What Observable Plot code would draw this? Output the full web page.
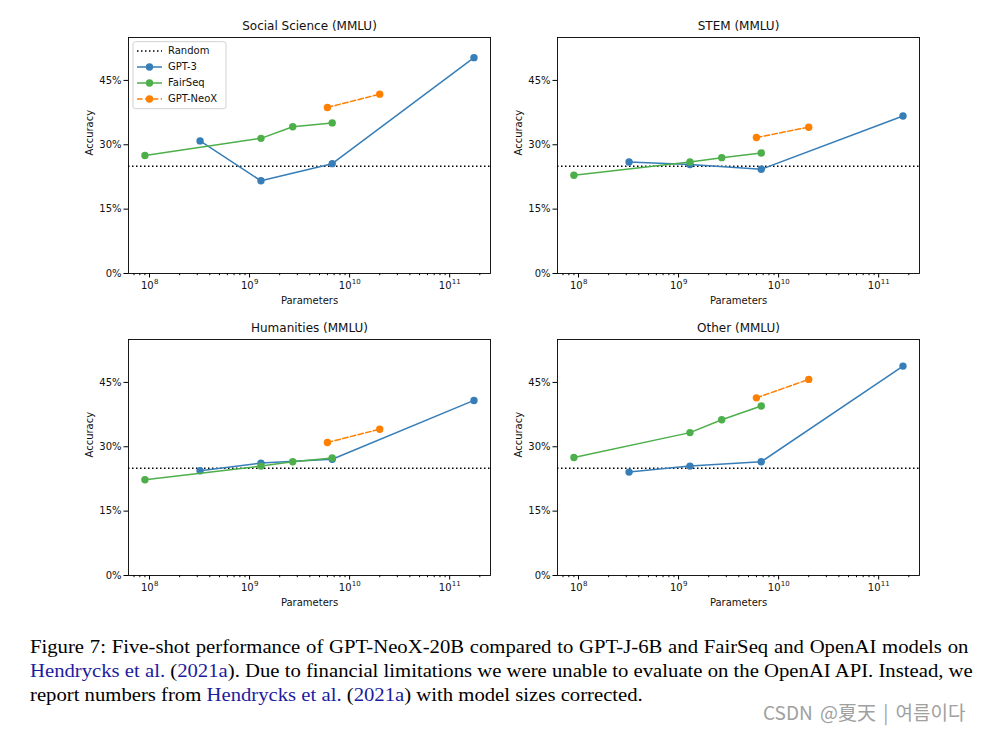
<!DOCTYPE html>
<html><head><meta charset="utf-8">
<script src="https://cdn.jsdelivr.net/npm/d3@7"></script>
<script src="https://cdn.jsdelivr.net/npm/@observablehq/plot@0.6"></script>
<style>
body{margin:0;background:#fff;}
#root{position:relative;width:983px;height:730px;overflow:hidden;background:#fff;}
.panel{position:absolute;}
#caption{position:absolute;left:30px;top:635px;width:816px;transform:scaleX(1.15);transform-origin:0 0;font-family:"Liberation Serif","Times New Roman",serif;font-size:18px;color:#000;line-height:24px;}
.ln{text-align:justify;text-align-last:justify;white-space:nowrap;}
.ln3{text-align:left;white-space:nowrap;}
.cite{color:#1c1ca0;}
#wm{position:absolute;left:763px;top:699px;font-family:"Noto Sans CJK KR","Noto Sans CJK SC",sans-serif;font-size:19px;line-height:26px;color:#a0a0a0;white-space:nowrap;word-spacing:3px;}
</style>
</head><body>
<div id="root">
  <div id="p0" class="panel" style="left:0px;top:0px"></div>
  <div id="p1" class="panel" style="left:429px;top:0px"></div>
  <div id="p2" class="panel" style="left:0px;top:302px"></div>
  <div id="p3" class="panel" style="left:429px;top:302px"></div>
  <div id="caption">
    <div class="ln">Figure 7: Five-shot performance of GPT-NeoX-20B compared to GPT-J-6B and FairSeq and OpenAI models on</div>
    <div class="ln"><span class="cite">Hendrycks et al.</span> (<span class="cite">2021a</span>). Due to financial limitations we were unable to evaluate on the OpenAI API. Instead, we</div>
    <div class="ln3">report numbers from <span class="cite">Hendrycks et al.</span> (<span class="cite">2021a</span>) with model sizes corrected.</div>
  </div>
  <div id="wm">CSDN @夏天 | 여름이다</div>
</div>
<script>
// ---- data ----
const panelTitles = ["Social Science (MMLU)", "STEM (MMLU)", "Humanities (MMLU)", "Other (MMLU)"];
const seriesNames = ["GPT-3", "FairSeq", "GPT-NeoX"];
const randomBaseline = 0.25;

const gpt3Params = [3.2e8, 1.3e9, 6.7e9, 1.75e11];
const fairseqParams = [9e7, 1.3e9, 2.7e9, 6.7e9];
const neoxParams = [6e9, 2e10];

const socialGPT3 = [30.9, 21.6, 25.6, 50.3];
const socialFairSeq = [27.5, 31.5, 34.2, 35.1];
const socialNeoX = [38.7, 41.8];

const stemGPT3 = [26.0, 25.4, 24.3, 36.7];
const stemFairSeq = [22.9, 26.0, 27.0, 28.1];
const stemNeoX = [31.7, 34.1];

const humGPT3 = [24.4, 26.2, 27.1, 40.8];
const humFairSeq = [22.3, 25.5, 26.5, 27.4];
const humNeoX = [31.0, 34.1];

const otherGPT3 = [24.1, 25.5, 26.5, 48.8];
const otherFairSeq = [27.5, 33.3, 36.3, 39.5];
const otherNeoX = [41.4, 45.7];

const xMajorTicks = [1e8, 1e9, 1e10, 1e11];
const xTickBase = "10";
const xTickExponents = ["8", "9", "10", "11"];
const yTicks = [0, 0.15, 0.30, 0.45];
const yTickLabels = ["0%", "15%", "30%", "45%"];

// ---- styles ----
const colors = {"GPT-3": "#377eb8", "FairSeq": "#4daf4a", "GPT-NeoX": "#ff7f00"};
const dashes = {"GPT-3": null, "FairSeq": null, "GPT-NeoX": "5.5,2.4"};
const xDomain = [Math.pow(10, 7.79), Math.pow(10, 11.408)];
const yDomain = [0, 0.55];
const textColor = "#111";

const minorTicks = [];
for (let k = 7; k <= 11; k++) for (let m = 2; m <= 9; m++) {
  const v = m * Math.pow(10, k);
  if (v >= xDomain[0] && v <= xDomain[1]) minorTicks.push(v);
}

function build(params, vals, name) {
  return params.map((p, i) => ({params: p, acc: vals[i] / 100, series: name}));
}
const panels = [
  [socialGPT3, socialFairSeq, socialNeoX],
  [stemGPT3, stemFairSeq, stemNeoX],
  [humGPT3, humFairSeq, humNeoX],
  [otherGPT3, otherFairSeq, otherNeoX]
].map(([g, f, n]) => [
  build(gpt3Params, g, "GPT-3"),
  build(fairseqParams, f, "FairSeq"),
  build(neoxParams, n, "GPT-NeoX")
]);

function tickLabelMarks() {
  const marks = [];
  xMajorTicks.forEach((t, i) => {
    const exp = xTickExponents[i];
    const baseW = 12.7, expW = exp.length * 4.5;
    const start = -(baseW + expW) / 2;
    marks.push(Plot.text([t], {x: d => d, text: () => xTickBase, frameAnchor: "bottom", lineAnchor: "middle",
      textAnchor: "start", dx: start, dy: 12.5, fontSize: 10, fill: textColor}));
    marks.push(Plot.text([t], {x: d => d, text: () => exp, frameAnchor: "bottom", lineAnchor: "middle",
      textAnchor: "start", dx: start + baseW + 0.3, dy: 8.5, fontSize: 7, fill: textColor}));
  });
  return marks;
}

function makePanel(idx) {
  const series = panels[idx];
  const marks = [
    Plot.frame({stroke: "#000", strokeWidth: 0.9}),
    Plot.ruleY([randomBaseline], {stroke: "#000", strokeWidth: 1.5, strokeDasharray: "1.5,2.5"}),
  ];
  series.forEach(data => {
    const name = data[0].series;
    marks.push(Plot.line(data, {x: "params", y: "acc", stroke: colors[name], strokeWidth: 1.5,
      strokeDasharray: dashes[name] || undefined}));
    marks.push(Plot.dot(data, {x: "params", y: "acc", fill: colors[name], r: 3.7, stroke: "none"}));
  });
  marks.push(
    Plot.axisX({ticks: minorTicks, tickSize: 2.2, tickFormat: () => "", label: null, stroke: "#000"}),
    Plot.axisX({ticks: xMajorTicks, tickSize: 4.5, tickFormat: () => "", label: null, stroke: "#000"}),
    ...tickLabelMarks(),
    Plot.axisY({ticks: yTicks, tickSize: 4.5, tickPadding: 2.5,
      tickFormat: d => yTickLabels[yTicks.indexOf(d)], label: null, fontSize: 10, fill: textColor, stroke: "#000"}),
    Plot.text([panelTitles[idx]], {frameAnchor: "top", lineAnchor: "middle", dy: -11, fontSize: 12, fill: textColor}),
    Plot.text(["Parameters"], {frameAnchor: "bottom", lineAnchor: "middle", dy: 27, fontSize: 10, fill: textColor}),
    Plot.text(["Accuracy"], {frameAnchor: "left", lineAnchor: "middle", dx: -39, rotate: -90, fontSize: 10, fill: textColor})
  );
  const svg = Plot.plot({
    width: 500, height: 312,
    marginLeft: 128, marginRight: 10, marginTop: 37, marginBottom: 39,
    style: {fontFamily: "DejaVu Sans", fontSize: "10px", background: "transparent", overflow: "visible", color: "#000"},
    x: {type: "log", domain: xDomain, axis: null},
    y: {domain: yDomain, axis: null},
    marks
  });
  if (idx === 0) addLegend(svg, 128, 37);
  return svg;
}

function addLegend(svg, ml, mt) {
  const items = [{name: "Random", color: "#000", dash: "1.5,2.5", marker: false}]
    .concat(seriesNames.map(n => ({name: n, color: colors[n], dash: dashes[n], marker: true})));
  const g = d3.select(svg).append("g").attr("transform", `translate(${ml + 5},${mt + 4.7})`)
    .attr("text-anchor", "start");
  g.append("rect").attr("width", 93).attr("height", 67).attr("rx", 2.5)
    .attr("fill", "#fff").attr("fill-opacity", 0.8).attr("stroke", "#ccc").attr("stroke-width", 0.9);
  items.forEach((it, i) => {
    const y = 9.3 + i * 16;
    g.append("line").attr("x1", 4).attr("x2", 29).attr("y1", y).attr("y2", y)
      .attr("stroke", it.color).attr("stroke-width", 1.5)
      .attr("stroke-dasharray", it.dash || null);
    if (it.marker) g.append("circle").attr("cx", 16.5).attr("cy", y).attr("r", 3.7).attr("fill", it.color);
    g.append("text").attr("x", 35).attr("y", y).attr("dy", "0.35em").attr("text-anchor", "start")
      .attr("font-family", "DejaVu Sans").attr("font-size", 10).attr("fill", textColor).text(it.name);
  });
}

for (let i = 0; i < 4; i++) document.getElementById("p" + i).appendChild(makePanel(i));
</script>
</body></html>
